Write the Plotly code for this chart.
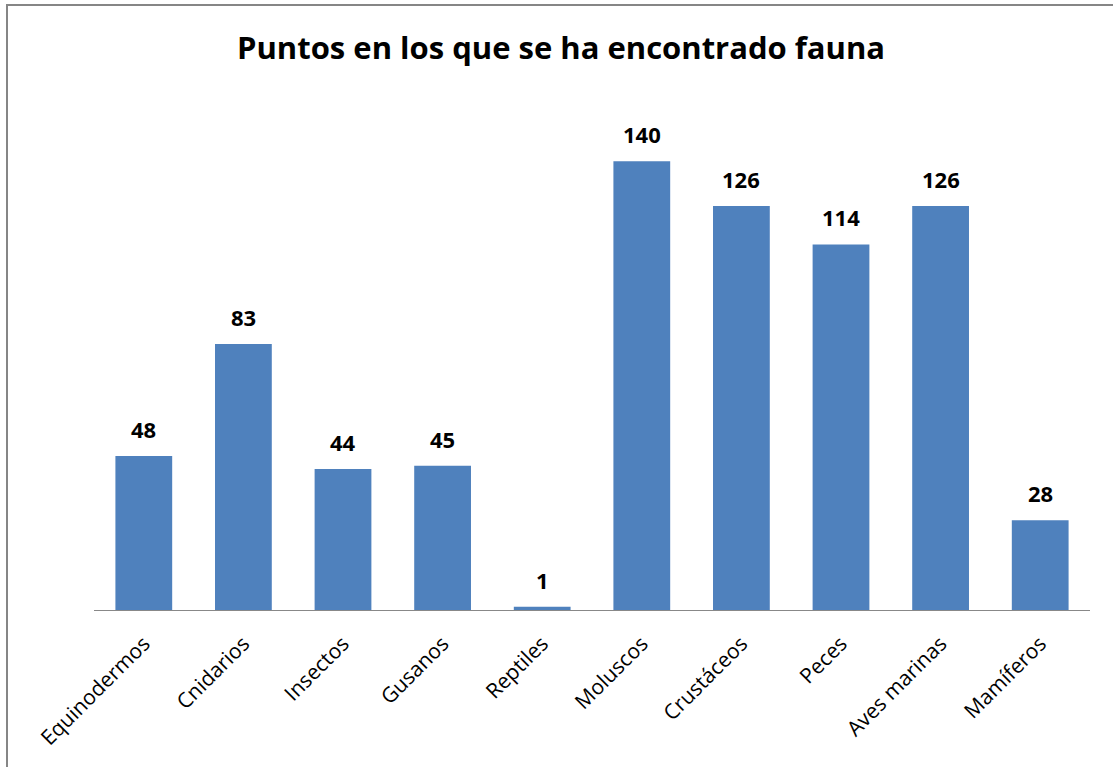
import plotly.graph_objects as go

categories = ["Equinodermos", "Cnidarios", "Insectos", "Gusanos", "Reptiles",
              "Moluscos", "Crustáceos", "Peces", "Aves marinas", "Mamíferos"]
values = [48, 83, 44, 45, 1, 140, 126, 114, 126, 28]
title_text = "Puntos en los que se ha encontrado fauna"

FONT = "Open Sans"
BAR = "#4F81BD"

fig = go.Figure()
fig.add_trace(go.Bar(x=categories, y=values, marker=dict(color=BAR, line=dict(width=0)),
                     hoverinfo="x+y"))

for c, v in zip(categories, values):
    fig.add_annotation(x=c, y=v, text=f"<b>{v}</b>", showarrow=False,
                       yanchor="bottom", yshift=10,
                       font=dict(family=FONT, size=22, color="#000000"))

# chart border (top and left; right/bottom fall outside the visible frame)
L, T, R, B = (7 - 94) / 996, (610 - 5) / 513, 1.04, -0.35
fig.add_shape(type="path", xref="paper", yref="paper",
              path=f"M {L} {B} L {L} {T} L {R} {T}",
              line=dict(color="#868686", width=2))

fig.update_layout(
    width=1113, height=767,
    margin=dict(l=94, r=23, t=97, b=157, autoexpand=False),
    paper_bgcolor="white", plot_bgcolor="white",
    title=dict(text=f"<b>{title_text}</b>", x=561 / 1113, xanchor="center",
               y=1 - 48/767, yanchor="middle", yref="container",
               font=dict(family=FONT, size=31, color="#000000")),
    bargap=0.43,
    showlegend=False,
    font=dict(family=FONT),
)
fig.update_xaxes(showline=True, linecolor="#888888", linewidth=1, ticks="",
                 tickangle=-45, automargin=False, ticklabelstandoff=12,
                 tickfont=dict(family=FONT, size=21, color="#000000"),
                 showgrid=False)
fig.update_yaxes(range=[0, 160], visible=False, showgrid=False, automargin=False)

fig.write_html("out.html", config={"displayModeBar": False},
               post_script="document.body.style.margin='0px';")
